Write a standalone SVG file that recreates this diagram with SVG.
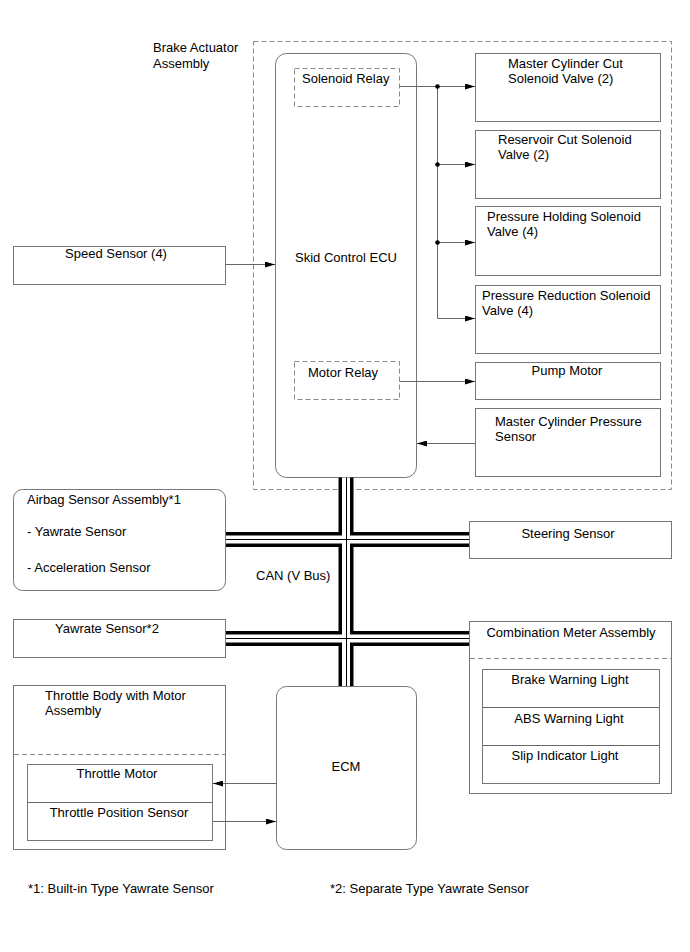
<svg xmlns="http://www.w3.org/2000/svg" width="690" height="952" viewBox="0 0 690 952">
<defs>
<style>
text{font-family:"Liberation Sans",Arial,sans-serif;font-size:13px;fill:#000}
.m{text-anchor:middle}
.box{fill:#fff;stroke:#777;stroke-width:1}
.dash{fill:none;stroke:#888;stroke-width:1;stroke-dasharray:5,3}
.ln{fill:none;stroke:#666;stroke-width:1}
.b1{fill:none;stroke:#000;stroke-width:15}
.b2{fill:none;stroke:#fff;stroke-width:8}
.b3{fill:none;stroke:#000;stroke-width:1}
</style>
<marker id="ah" viewBox="0 0 10 6" refX="10" refY="3" markerWidth="10" markerHeight="6" markerUnits="userSpaceOnUse" orient="auto">
<path d="M0,0 L10,3 L0,6 z" fill="#000"/>
</marker>
</defs>

<g id="brake-actuator-assembly">
<rect class="dash" x="253.5" y="41.5" width="418" height="448"/>
<text x="153" y="52">Brake Actuator</text>
<text x="153" y="68">Assembly</text>
</g>

<g id="skid-control-ecu">
<rect class="box" x="275.5" y="53.5" width="141" height="424" rx="11"/>
<text class="m" x="346" y="262">Skid Control ECU</text>
</g>
<g id="solenoid-relay">
<rect class="dash" x="294.5" y="68.5" width="105" height="38"/>
<text x="302" y="83">Solenoid Relay</text>
</g>
<g id="motor-relay">
<rect class="dash" x="294.5" y="361.5" width="105" height="38"/>
<text x="308" y="377">Motor Relay</text>
</g>

<g id="master-cylinder-cut">
<rect class="box" x="475.5" y="53.5" width="185" height="68"/>
<text x="508" y="68">Master Cylinder Cut</text>
<text x="508" y="83">Solenoid Valve (2)</text>
</g>
<g id="reservoir-cut">
<rect class="box" x="475.5" y="130.5" width="185" height="68"/>
<text x="498" y="144">Reservoir Cut Solenoid</text>
<text x="498" y="159">Valve (2)</text>
</g>
<g id="pressure-holding">
<rect class="box" x="475.5" y="206.5" width="185" height="69"/>
<text x="487" y="221">Pressure Holding Solenoid</text>
<text x="487" y="236">Valve (4)</text>
</g>
<g id="pressure-reduction">
<rect class="box" x="475.5" y="285.5" width="185" height="68"/>
<text x="482" y="300">Pressure Reduction Solenoid</text>
<text x="482" y="315">Valve (4)</text>
</g>
<g id="pump-motor">
<rect class="box" x="475.5" y="362.5" width="185" height="37"/>
<text class="m" x="567" y="375">Pump Motor</text>
</g>
<g id="master-cylinder-pressure-sensor">
<rect class="box" x="475.5" y="408.5" width="185" height="68"/>
<text x="495" y="426">Master Cylinder Pressure</text>
<text x="495" y="441">Sensor</text>
</g>

<g id="speed-sensor">
<rect class="box" x="13.5" y="246.5" width="212" height="38"/>
<text class="m" x="116" y="258">Speed Sensor (4)</text>
</g>

<g id="airbag-sensor-assembly">
<rect class="box" x="13.5" y="489.5" width="212" height="101" rx="9"/>
<text x="27" y="504">Airbag Sensor Assembly*1</text>
<text x="27" y="536">- Yawrate Sensor</text>
<text x="27" y="572">- Acceleration Sensor</text>
</g>

<g id="steering-sensor">
<rect class="box" x="469.5" y="521.5" width="202" height="37"/>
<text class="m" x="568" y="538">Steering Sensor</text>
</g>

<g id="yawrate-sensor">
<rect class="box" x="13.5" y="619.5" width="212" height="38"/>
<text class="m" x="107" y="633">Yawrate Sensor*2</text>
</g>

<g id="combination-meter-assembly">
<rect class="box" x="469.5" y="621.5" width="202" height="172"/>
<line class="dash" x1="470" y1="658.5" x2="671" y2="658.5"/>
<text class="m" x="571" y="637">Combination Meter Assembly</text>
<rect class="box" x="482.5" y="669.5" width="177" height="114"/>
<line class="ln" x1="483" y1="707.5" x2="659" y2="707.5"/>
<line class="ln" x1="483" y1="745.5" x2="659" y2="745.5"/>
<text class="m" x="570" y="684">Brake Warning Light</text>
<text class="m" x="569" y="723">ABS Warning Light</text>
<text class="m" x="565" y="760">Slip Indicator Light</text>
</g>

<g id="throttle-body">
<rect class="box" x="13.5" y="685.5" width="212" height="164"/>
<line class="dash" x1="14" y1="754.5" x2="225" y2="754.5"/>
<text x="45" y="700">Throttle Body with Motor</text>
<text x="45" y="715">Assembly</text>
<rect class="box" x="27.5" y="764.5" width="185" height="76"/>
<line class="ln" x1="28" y1="802.5" x2="212" y2="802.5"/>
<text class="m" x="117" y="778">Throttle Motor</text>
<text class="m" x="119" y="817">Throttle Position Sensor</text>
</g>

<g id="ecm">
<rect class="box" x="276.5" y="686.5" width="140" height="163" rx="10"/>
<text class="m" x="346" y="771">ECM</text>
</g>

<g id="connectors">
<path class="ln" d="M399.5 86.5 H437.5 V318.5 H475" marker-end="url(#ah)"/>
<path class="ln" d="M437.5 86.5 H475" marker-end="url(#ah)"/>
<path class="ln" d="M437.5 164.5 H475" marker-end="url(#ah)"/>
<path class="ln" d="M437.5 242.5 H475" marker-end="url(#ah)"/>
<circle cx="437.5" cy="86.5" r="2.3" fill="#000"/>
<circle cx="437.5" cy="164.5" r="2.3" fill="#000"/>
<circle cx="437.5" cy="242.5" r="2.3" fill="#000"/>
<path class="ln" d="M399.5 381.5 H475" marker-end="url(#ah)"/>
<path class="ln" d="M475 443.5 H417" marker-end="url(#ah)"/>
<path class="ln" d="M226 264.5 H275" marker-end="url(#ah)"/>
<path class="ln" d="M276 783.5 H213" marker-end="url(#ah)"/>
<path class="ln" d="M213 821.5 H276" marker-end="url(#ah)"/>
<g id="can-bus">
<path class="b1" d="M346 477.5 V686 M226 539.5 H469 M226 638.5 H469"/>
<path class="b2" d="M346 477.5 V686 M226 539.5 H469 M226 638.5 H469"/>
<path class="b3" d="M346.5 477.5 V686 M226 539.5 H469 M226 638.5 H469"/>
</g>
<text x="256" y="580">CAN (V Bus)</text>
</g>

<g id="notes">
<text x="28" y="893">*1: Built-in Type Yawrate Sensor</text>
<text x="330" y="893">*2: Separate Type Yawrate Sensor</text>
</g>
</svg>
